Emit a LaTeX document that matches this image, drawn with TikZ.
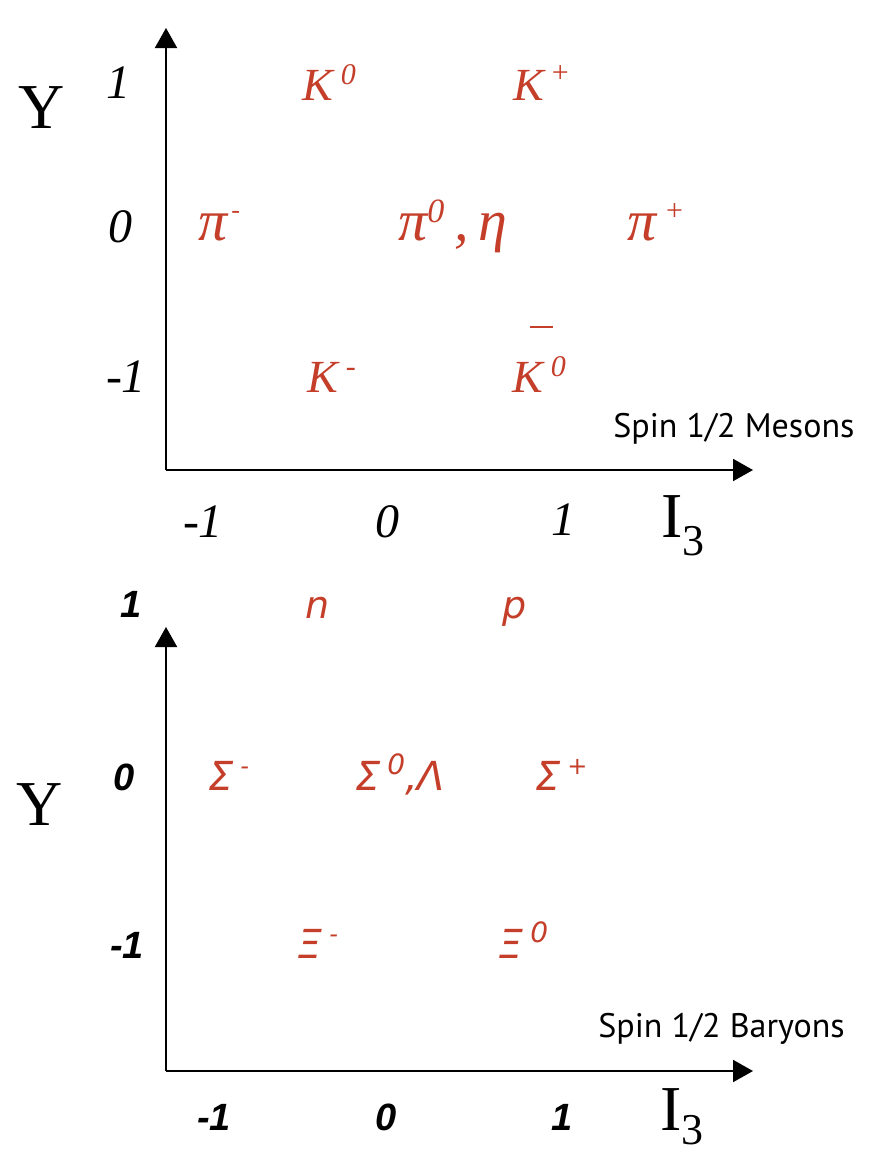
\documentclass[tikz,border=0pt]{standalone}
\usepackage{fontspec}
\setmainfont{Liberation Serif}
\newfontfamily\lowfont{DejaVu Sans}
\newfontfamily\spinfont{PT Sans}
\newfontfamily\tickfont{Liberation Sans}
\usetikzlibrary{arrows.meta}
\definecolor{part}{RGB}{196,62,42}
\newcommand\supx[3]{\raisebox{#1}{\fontsize{#2}{#2}\selectfont #3}}
\tikzset{
  axis/.style={line width=1pt,-{Triangle[length=10pt,width=11pt]}},
  big/.style={font=\fontsize{32}{32}\selectfont, inner sep=0pt},
  tickup/.style={font=\fontsize{24}{24}\selectfont\itshape, inner sep=0pt, anchor=base},
  partup/.style={font=\fontsize{23}{23}\selectfont\itshape, text=part, inner sep=0pt, anchor=base west},
  pionup/.style={partup, font=\fontsize{29}{29}\selectfont\itshape},
  tickdn/.style={font=\fontsize{19}{19}\selectfont\tickfont\bfseries\itshape, inner sep=0pt, anchor=base},
  partdn/.style={font=\fontsize{19}{19}\selectfont\lowfont\itshape, text=part, inner sep=0pt, anchor=base west},
  greekdn/.style={partdn, font=\fontsize{20}{20}\selectfont\lowfont\itshape},
  spin/.style={font=\fontsize{17}{17}\selectfont\spinfont, inner sep=0pt, anchor=base west}
}
\begin{document}
\begin{tikzpicture}[x=0.5pt,y=-0.5pt]
\useasboundingbox (0,0) rectangle (878,1157);
% ---------- upper chart: mesons ----------
\coordinate (o1) at (166,470);
\coordinate (yt1) at (166,28);
\coordinate (xt1) at (753,470);
\draw[axis] (o1) -- (yt1);
\draw[axis] (o1) -- (xt1);
\node[big, anchor=base] (Y1) at (42,128) {Y};
\node[big, anchor=base west] (I1) at (661,537) {I\supx{-9pt}{22}{3}};
\node[tickup] (ty1a) at (118,98) {1};
\node[tickup] (ty1b) at (120,242) {0};
\node[tickup] (ty1c) at (126,392) {-1};
\node[tickup] (tx1a) at (203,537) {-1};
\node[tickup] (tx1b) at (387,537) {0};
\node[tickup] (tx1c) at (563,535) {1};
\node[partup] (K0) at (302,100) {K\,\supx{8pt}{15}{0}};
\node[partup] (Kp) at (513,100) {K\,\supx{9pt}{15}{\upshape +}};
\node[pionup] (pim) at (198,240) {π\kern2pt\supx{11pt}{13}{\upshape -}};
\node[pionup] (pi0) at (398,240) {π\supx{9pt}{17}{0}\,,\,η};
\node[pionup] (pip) at (627,240) {π\,\supx{10pt}{15}{\upshape +}};
\node[partup] (Km) at (307,392) {K\,\supx{8pt}{15}{-}};
\node[partup] (K0b) at (512,392) {\rlap{\hspace{9pt}\raisebox{32pt}{\rule{11.5pt}{1pt}}}K\,\supx{8pt}{15}{0}};
\node[spin] (lab1) at (613,437) {Spin 1/2 Mesons};
% ---------- lower chart: baryons ----------
\coordinate (o2) at (166,1071);
\coordinate (yt2) at (166,627);
\coordinate (xt2) at (753,1071);
\draw[axis] (o2) -- (yt2);
\draw[axis] (o2) -- (xt2);
\node[big, anchor=base] (Y2) at (40,825) {Y};
\node[big, anchor=base west] (I2) at (660,1130) {I\supx{-7pt}{22}{3}};
\node[tickdn] (ty2a) at (131,617) {1};
\node[tickdn] (ty2b) at (124,790) {0};
\node[tickdn] (ty2c) at (127,958) {-1};
\node[tickdn] (tx2a) at (214,1130) {-1};
\node[tickdn] (tx2b) at (386,1130) {0};
\node[tickdn] (tx2c) at (562,1130) {1};
\node[partdn] (n) at (305,618) {n};
\node[partdn] (p) at (502,618) {p};
\node[greekdn] (Sm) at (208,790) {Σ\,\supx{8pt}{12}{-}};
\node[greekdn] (S0) at (355,790) {Σ\,\supx{8pt}{14}{0},Λ};
\node[greekdn] (Sp) at (535,790) {Σ\,\supx{8pt}{12}{+}};
\node[greekdn] (Xm) at (297,958) {Ξ\,\supx{8pt}{12}{-}};
\node[greekdn] (X0) at (498,958) {Ξ\,\supx{8pt}{14}{0}};
\node[spin] (lab2) at (598,1037) {Spin 1/2 Baryons};
\end{tikzpicture}
\end{document}
